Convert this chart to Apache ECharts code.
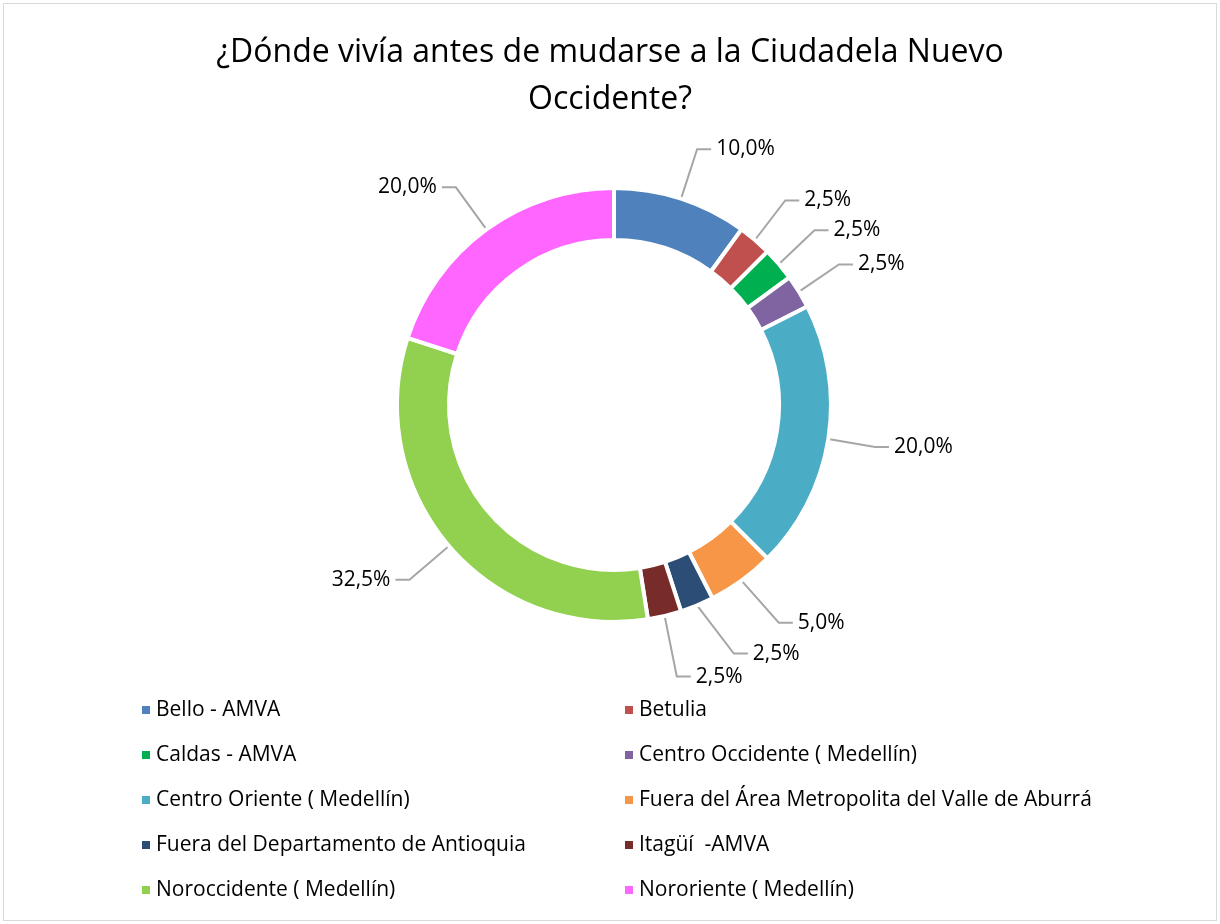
<!DOCTYPE html>
<html>
<head>
<meta charset="utf-8">
<script src="https://cdn.jsdelivr.net/npm/echarts@6/dist/echarts.min.js"></script>
<style>
  html, body { margin: 0; padding: 0; background: #fff; }
  #chart { position: absolute; left: 3px; top: 3px; width: 1212px; height: 916px; border: 1px solid #d9d9d9; }
</style>
</head>
<body>
<div id="chart"></div>
<script>
const categories = [
  'Bello - AMVA',
  'Betulia',
  'Caldas - AMVA',
  'Centro Occidente ( Medellín)',
  'Centro Oriente ( Medellín)',
  'Fuera del Área Metropolita del Valle de Aburrá',
  'Fuera del Departamento de Antioquia',
  'Itagüí  -AMVA',
  'Noroccidente ( Medellín)',
  'Nororiente ( Medellín)'
]
const values = [10.0, 2.5, 2.5, 2.5, 20.0, 5.0, 2.5, 2.5, 32.5, 20.0]
const colors = ['#4f81bd', '#c0504d', '#00b050', '#8064a2', '#4bacc6', '#f79646', '#2c4d75', '#772c2a', '#92d050', '#ff66ff']

const font = 'Open Sans, Noto Sans, sans-serif'
const data = categories.map((name, i) => ({ name: name, value: values[i], itemStyle: { color: colors[i] } }))

const legendText = { fontSize: 21, color: '#000', fontFamily: font, lineHeight: 22 }

let myChart = echarts.init(document.getElementById('chart'))
myChart.setOption({
  animation: false,
  title: {
    text: '¿Dónde vivía antes de mudarse a la Ciudadela Nuevo\nOccidente?',
    left: 'center',
    top: 20,
    textStyle: { fontSize: 32, fontWeight: 'normal', color: '#000', fontFamily: font, lineHeight: 47 }
  },
  legend: [
    {
      orient: 'vertical',
      left: 131,
      top: 690,
      icon: 'rect',
      itemWidth: 10,
      itemHeight: 10,
      itemGap: 23,
      textStyle: legendText,
      data: categories.filter((c, i) => i % 2 === 0)
    },
    {
      orient: 'vertical',
      left: 614,
      top: 690,
      icon: 'rect',
      itemWidth: 10,
      itemHeight: 10,
      itemGap: 23,
      textStyle: legendText,
      data: categories.filter((c, i) => i % 2 === 1)
    }
  ],
  series: [
    {
      type: 'pie',
      center: [610, 401],
      radius: [165, 217],
      startAngle: 90,
      clockwise: true,
      avoidLabelOverlap: true,
      itemStyle: { borderColor: '#fff', borderWidth: 4 },
      label: {
        show: true,
        formatter: p => p.value.toFixed(1).replace('.', ',') + '%',
        fontSize: 21,
        color: '#000',
        fontFamily: font
      },
      labelLine: {
        show: true,
        length: 52,
        length2: 14,
        lineStyle: { color: '#a6a6a6', width: 2 }
      },
      data: data
    }
  ]
})
</script>
</body>
</html>
